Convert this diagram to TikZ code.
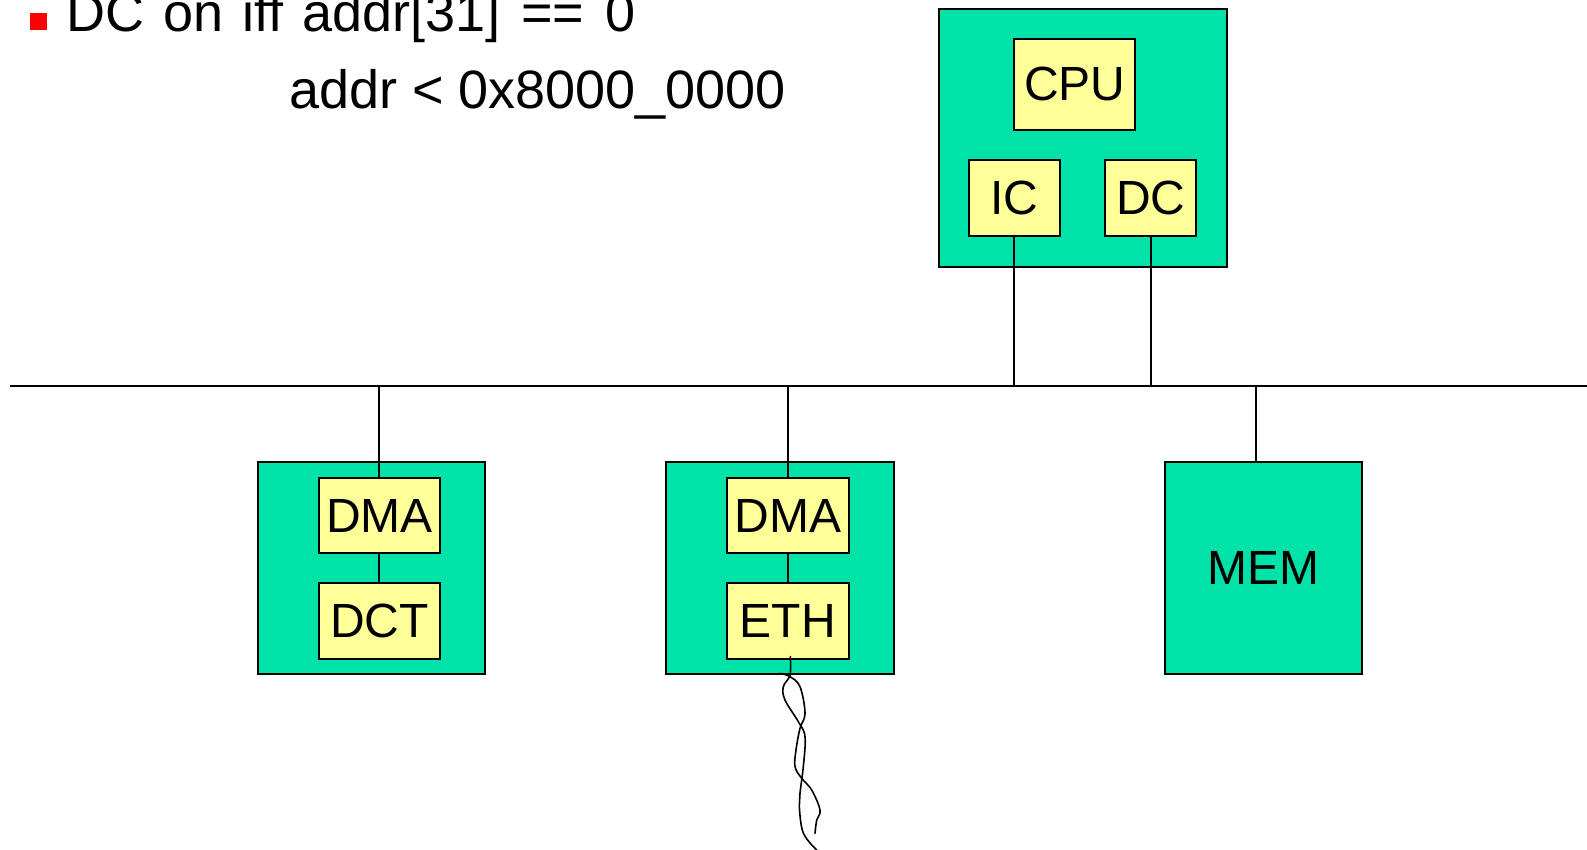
\documentclass[tikz,border=0pt]{standalone}
\usepackage{fontspec}
\setmainfont{Liberation Sans}
\definecolor{boardgreen}{RGB}{0,226,168}
\definecolor{chipyellow}{RGB}{255,255,153}
\definecolor{bulletred}{RGB}{255,0,0}
\begin{document}
\begin{tikzpicture}[x=1pt,y=-1pt,
  board/.style={draw=black,line width=2pt,fill=boardgreen,anchor=north west,inner sep=0pt},
  chip/.style={draw=black,line width=2pt,fill=chipyellow,anchor=north west,inner sep=0pt,font=\fontsize{48}{52}\selectfont},
  wire/.style={draw=black,line width=2pt},
  bigtext/.style={anchor=base west,inner sep=0pt,font=\fontsize{54}{60}\selectfont}]
\useasboundingbox (0,0) rectangle (1587,850);
% bullet text
\node[fill=bulletred,minimum width=16.7pt,minimum height=16.7pt,inner sep=0pt,anchor=north west] (bullet) at (30,12.7) {};
\node[bigtext] (line1) at (66,32) {DC\hspace{19pt}on\hspace{19pt}iff\hspace{19pt}addr[31]\hspace{21pt}==\hspace{21pt}0};
\node[bigtext] (line2) at (289,109) {addr < 0x8000\_0000};
% bus
\coordinate (busL) at (10,385.7);
\coordinate (busR) at (1587,385.7);
\draw[wire] (busL) -- (busR);
% CPU board
\node[board,minimum width=288pt,minimum height=258pt] (cpub) at (937.7,7.7) {};
\node[chip,minimum width=121pt,minimum height=91.3pt] (cpu) at (1013.3,37.7) {CPU};
\node[chip,minimum width=91.3pt,minimum height=75.7pt] (ic) at (967.7,159.3) {IC};
\node[chip,minimum width=91.3pt,minimum height=75.7pt] (dc) at (1104,159.3) {DC};
\draw[wire] (ic.south) -- (ic.south |- busL);
\draw[wire] (dc.south) -- (dc.south |- busL);
% DCT board
\node[board,minimum width=227.6pt,minimum height=212.3pt] (dctb) at (256.7,461) {};
\node[chip,minimum width=121.3pt,minimum height=75.6pt] (dma1) at (317.7,476.7) {DMA};
\node[chip,minimum width=121.3pt,minimum height=75.6pt] (dct) at (317.7,582) {DCT};
\draw[wire] (dma1.north) -- (dma1.north |- busL);
\draw[wire] (dma1.south) -- (dct.north);
% ETH board
\node[board,minimum width=227.4pt,minimum height=212.3pt] (ethb) at (665.3,461) {};
\node[chip,minimum width=121.7pt,minimum height=75.6pt] (dma2) at (726,476.7) {DMA};
\node[chip,minimum width=121.7pt,minimum height=75.6pt] (eth) at (726,582) {ETH};
\draw[wire] (dma2.north) -- (dma2.north |- busL);
\draw[wire] (dma2.south) -- (eth.north);
% MEM board
\node[board,minimum width=196.7pt,minimum height=212.3pt,font=\fontsize{48}{52}\selectfont] (mem) at (1164.3,461) {MEM};
\coordinate (memtap) at (1255.7,461);
\draw[wire] (memtap) -- (memtap |- busL);
% cable
\draw[line width=1.6pt,line cap=round] plot[smooth,tension=0.6] coordinates {([xshift=2.5pt,yshift=3pt]eth.south) (790,675) (783.3,686.7) (785,700) (798.3,721.7) (805,736.7) (803.3,766.7) (800,793) (799.3,806.7) (803.3,833) (816.7,850)};
\draw[line width=1.6pt,line cap=round] plot[smooth,tension=0.6] coordinates {(780,673.3) (790,676.7) (800,686.7) (805,713.3) (800,728.3) (796,750) (795,766.7) (801.7,778.3) (811.7,790) (820,810) (816.7,820) (815,833.3)};
\end{tikzpicture}
\end{document}
